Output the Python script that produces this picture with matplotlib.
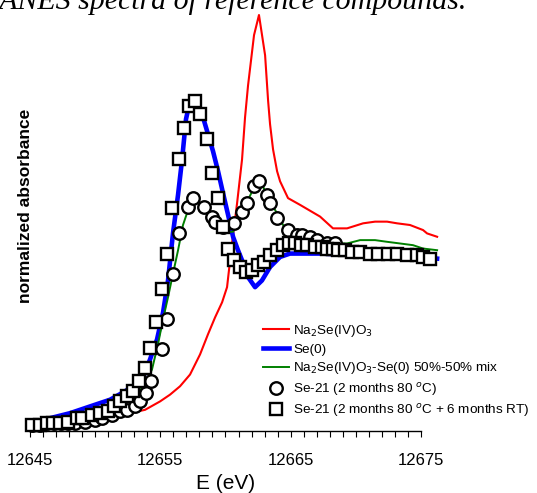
import numpy as np
import matplotlib.pyplot as plt
from matplotlib.ticker import FixedLocator, MultipleLocator

plt.rcParams['font.family'] = ['Liberation Sans', 'DejaVu Sans']

# Se K-edge XANES, normalized absorbance vs energy (eV)
E_na2seo3 = [12645.00, 12647.30, 12649.60, 12651.14, 12652.67, 12653.83, 12654.98, 12655.74,
             12656.51, 12657.28, 12658.05, 12658.66, 12659.20, 12659.74, 12660.12, 12660.50,
             12660.89, 12661.27, 12661.50, 12661.73, 12661.96, 12662.19, 12662.57, 12663.04,
             12663.27, 12663.42, 12663.65, 12663.96, 12664.19, 12664.80, 12665.72, 12667.26,
             12668.25, 12669.33, 12670.56, 12671.48, 12672.40, 12673.17, 12674.16, 12675.16,
             12675.47, 12676.24]
mu_na2seo3 = [0.01, 0.02, 0.04, 0.05, 0.07, 0.09, 0.14, 0.18,
              0.23, 0.30, 0.42, 0.54, 0.64, 0.73, 0.82, 1.08,
              1.32, 1.58, 1.83, 2.02, 2.17, 2.32, 2.44, 2.20,
              1.93, 1.79, 1.64, 1.51, 1.45, 1.35, 1.31, 1.24,
              1.17, 1.17, 1.20, 1.21, 1.21, 1.20, 1.19, 1.16,
              1.14, 1.12]

E_se0 = [12645.00, 12646.53, 12648.07, 12649.60, 12651.14, 12652.29, 12653.06, 12653.67,
         12654.21, 12654.75, 12655.21, 12655.59, 12655.97, 12656.36, 12656.67, 12656.97,
         12657.28, 12657.59, 12657.89, 12658.28, 12658.66, 12659.04, 12659.43, 12659.81,
         12660.20, 12660.58, 12660.96, 12661.27, 12661.73, 12662.27, 12662.80, 12663.42,
         12664.19, 12664.95, 12667.26, 12670.33, 12673.40, 12676.24]
mu_se0 = [0.01, 0.04, 0.07, 0.11, 0.15, 0.20, 0.24, 0.28,
          0.39, 0.51, 0.67, 0.86, 1.14, 1.37, 1.58, 1.82,
          1.93, 1.95, 1.90, 1.83, 1.73, 1.63, 1.51, 1.38,
          1.25, 1.12, 1.04, 0.98, 0.88, 0.82, 0.86, 0.94,
          1.00, 1.02, 1.02, 1.01, 1.01, 0.99]

E_mix = [12645.00, 12647.30, 12649.60, 12651.14, 12652.29, 12653.06, 12653.83, 12654.36,
         12654.82, 12655.21, 12655.59, 12655.97, 12656.36, 12656.74, 12657.13, 12657.51,
         12657.89, 12658.28, 12658.66, 12659.04, 12659.43, 12659.81, 12660.20, 12660.58,
         12660.96, 12661.35, 12661.73, 12662.11, 12662.50, 12662.88, 12663.27, 12663.65,
         12664.03, 12664.42, 12664.80, 12665.18, 12665.72, 12666.49, 12667.26, 12668.41,
         12669.33, 12670.33, 12671.48, 12672.40, 12673.40, 12674.39, 12675.16, 12676.24]
mu_mix = [0.01, 0.03, 0.07, 0.10, 0.14, 0.18, 0.24, 0.33,
          0.48, 0.63, 0.76, 0.90, 1.04, 1.19, 1.28, 1.34,
          1.33, 1.31, 1.27, 1.24, 1.20, 1.17, 1.15, 1.15,
          1.21, 1.27, 1.34, 1.40, 1.45, 1.42, 1.35, 1.30,
          1.25, 1.19, 1.15, 1.11, 1.10, 1.08, 1.08, 1.08,
          1.08, 1.10, 1.10, 1.09, 1.08, 1.07, 1.05, 1.04]

# Se-21, 2 months at 80 C
E_s80 = [12645.15, 12645.77, 12646.30, 12646.84, 12647.38, 12647.92, 12648.45, 12649.22,
         12649.99, 12650.53, 12651.29, 12651.91, 12652.44, 12653.06, 12653.44, 12653.90,
         12654.29, 12655.13, 12655.51, 12655.97, 12656.44, 12657.13, 12657.51, 12658.35,
         12658.97, 12659.20, 12659.81, 12660.66, 12661.27, 12661.65, 12662.19, 12662.57,
         12663.19, 12663.42, 12663.96, 12664.80, 12665.49, 12665.87, 12666.49, 12667.03,
         12667.79, 12668.41]
mu_s80 = [0.00, 0.00, 0.01, 0.01, 0.01, 0.01, 0.01, 0.02,
          0.03, 0.04, 0.06, 0.08, 0.09, 0.11, 0.14, 0.19,
          0.26, 0.45, 0.63, 0.90, 1.14, 1.30, 1.35, 1.30,
          1.24, 1.21, 1.18, 1.20, 1.27, 1.32, 1.42, 1.45,
          1.37, 1.32, 1.23, 1.16, 1.13, 1.13, 1.12, 1.10,
          1.08, 1.08]

# Se-21, 2 months at 80 C + 6 months at room temperature
E_s80rt = [12645.15, 12645.77, 12646.30, 12646.77, 12647.30, 12647.92, 12648.61, 12648.99,
           12649.76, 12650.37, 12650.99, 12651.45, 12651.91, 12652.44, 12652.90, 12653.37,
           12653.83, 12654.21, 12654.67, 12655.13, 12655.51, 12655.90, 12656.44, 12656.82,
           12657.20, 12657.66, 12658.05, 12658.58, 12658.97, 12659.43, 12659.81, 12660.20,
           12660.66, 12661.12, 12661.58, 12662.04, 12662.50, 12662.96, 12663.42, 12663.96,
           12664.42, 12664.88, 12665.34, 12665.80, 12666.26, 12666.87, 12667.41, 12667.79,
           12668.25, 12668.64, 12669.17, 12669.71, 12670.33, 12671.09, 12671.71, 12672.47,
           12673.17, 12673.93, 12674.70, 12675.16, 12675.70]
mu_s80rt = [0.00, 0.00, 0.01, 0.01, 0.01, 0.02, 0.04, 0.04, 0.06, 0.07,
            0.08, 0.11, 0.14, 0.17, 0.20, 0.26, 0.34, 0.46, 0.61, 0.81,
            1.02, 1.29, 1.58, 1.77, 1.90, 1.93, 1.85, 1.70, 1.50, 1.35,
            1.18, 1.05, 0.98, 0.94, 0.91, 0.92, 0.95, 0.97, 1.01, 1.04,
            1.07, 1.08, 1.08, 1.07, 1.07, 1.06, 1.06, 1.05, 1.05, 1.04,
            1.04, 1.03, 1.03, 1.02, 1.02, 1.02, 1.02, 1.01, 1.01, 1.00,
            0.99]

xticks = [12645, 12655, 12665, 12675]

fig = plt.figure(figsize=(5.37, 4.93), dpi=100)
ax = fig.add_axes([0.0559, 0.1258, 0.728, 0.854])

ax.plot(E_na2seo3, mu_na2seo3, color='red', lw=1.5, clip_on=False, zorder=2,
        label='Na$_2$Se(IV)O$_3$')
ax.plot(E_se0, mu_se0, color='blue', lw=3.3, clip_on=False, zorder=2,
        label='Se(0)')
ax.plot(E_mix, mu_mix, color='green', lw=1.4, clip_on=False, zorder=3,
        label='Na$_2$Se(IV)O$_3$-Se(0) 50%-50% mix')
ax.plot(E_s80, mu_s80, 'o', ms=9, mfc='white', mec='black', mew=1.7,
        clip_on=False, zorder=4, label='Se-21 (2 months 80 $^{o}$C)')
ax.plot(E_s80rt, mu_s80rt, 's', ms=8.5, mfc='white', mec='black', mew=1.7,
        clip_on=False, zorder=5, label='Se-21 (2 months 80 $^{o}$C + 6 months RT)')

ax.set_xlim(12645, 12675)
ax.set_ylim(-0.036, 2.47)

for s in ['left', 'top', 'right']:
    ax.spines[s].set_visible(False)
ax.spines['bottom'].set_linewidth(1.0)
ax.set_yticks([])
ax.xaxis.set_major_locator(FixedLocator(xticks))
ax.xaxis.set_minor_locator(MultipleLocator(1))
ax.tick_params(axis='x', which='both', direction='out', length=4.5, width=0.8,
               labelsize=12, pad=11)
ax.set_xlabel('E (eV)', fontsize=15, labelpad=5)

fig.text(26 / 537, 1 - 206 / 493, 'normalized absorbance', rotation=90,
         ha='center', va='center', fontsize=12.5, fontweight='bold')

# caption line running off the top of the figure
fig.text(466 / 537, 1 - 9 / 493, 'XANES spectra of reference compounds.',
         ha='right', va='baseline', fontsize=21.5, style='italic',
         family='Liberation Serif')

ax.legend(loc='upper left', bbox_to_anchor=(263 / 537, 1 - 323 / 493),
          bbox_transform=fig.transFigure, frameon=False, fontsize=9.7,
          handlelength=1.93, handletextpad=0.3, labelspacing=0.33,
          borderaxespad=0, borderpad=0)

fig.savefig('out.png', dpi=100)
